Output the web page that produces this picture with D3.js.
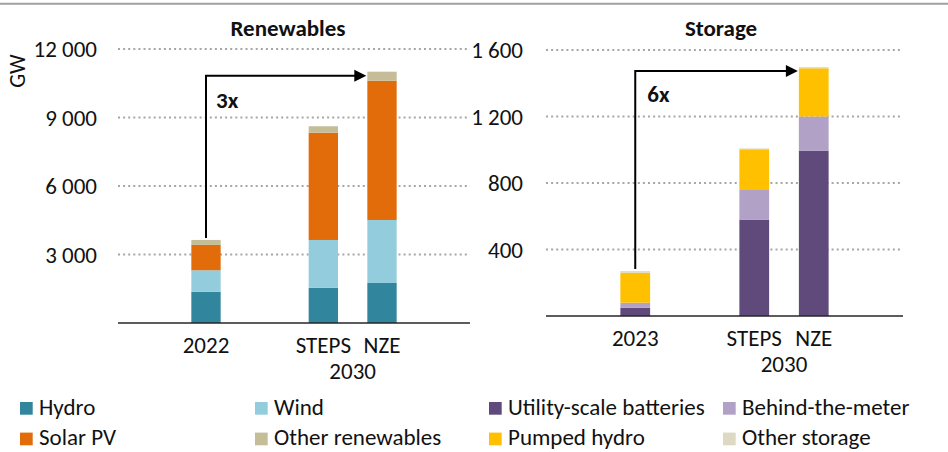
<!DOCTYPE html>
<html>
<head>
<meta charset="utf-8">
<script src="https://cdn.jsdelivr.net/npm/d3@7"></script>
<style>
  html, body { margin: 0; padding: 0; background: #fff; }
  svg { display: block; font-family: Carlito, Lato, "Open Sans", sans-serif; }
</style>
</head>
<body>
<svg id="chart" width="948" height="452"></svg>
<script>
// ---------- data ----------
const renSlots = ["", "2022", "", "STEPS", "NZE", ""];
const renCategories = ["2022", "STEPS", "NZE"];
const renHydro = [1370, 1546, 1752];
const renWind = [940, 2090, 2760];
const renSolar = [1108, 4700, 6100];
const renOther = [220, 280, 395];
const renTicks = [3000, 6000, 9000, 12000];

const storSlots = ["", "2023", "", "STEPS", "NZE", ""];
const storCategories = ["2023", "STEPS", "NZE"];
const storUtility = [50, 580, 995];
const storBTM = [30, 178, 205];
const storPumped = [180, 245, 290];
const storOther = [10, 5, 7];
const storTicks = [400, 800, 1200, 1600];

const renSeriesNames = ["Hydro", "Wind", "Solar PV", "Other renewables"];
const storSeriesNames = ["Utility-scale batteries", "Behind-the-meter", "Pumped hydro", "Other storage"];
const renColors = ["#31859c", "#93cddd", "#e36c0a", "#c4bd97"];
const storColors = ["#604a7b", "#b2a1c7", "#ffc000", "#ddd9c3"];

// ---------- setup ----------
const svg = d3.select("#chart");
const fmt = v => d3.format(",")(v).replace(/,/g, " ");
const FS = 23;

// top rule
svg.append("line").attr("x1", 0).attr("x2", 948).attr("y1", 3.7).attr("y2", 3.7)
  .attr("stroke", "#a0a0a0").attr("stroke-width", 2);

function panel(opts) {
  const { x0, x1, yBase, yTop, max, ticks, slots, cats, series, colors, title, titleX, labelRight, ratio, ratioX, ratioY } = opts;
  const g = svg.append("g");
  const x = d3.scaleBand().domain(d3.range(slots.length)).range([x0, x1]).paddingInner(0.5).paddingOuter(0.25);
  const y = d3.scaleLinear().domain([0, max]).range([yBase, yTop]);

  // gridlines
  g.append("g").selectAll("line").data(ticks).join("line")
    .attr("x1", x0).attr("x2", x1)
    .attr("y1", d => y(d)).attr("y2", d => y(d))
    .attr("stroke", "#a6a6a6").attr("stroke-width", 2).attr("stroke-dasharray", "2,3.1");

  // tick labels via axis
  const ax = g.append("g").attr("transform", `translate(${labelRight},0)`)
    .call(d3.axisLeft(y).tickValues(ticks).tickFormat(fmt).tickSize(0).tickPadding(0));
  ax.attr("font-family", null).attr("font-size", null);
  ax.select(".domain").remove();
  ax.selectAll("text").attr("font-size", FS).attr("fill", "#111").attr("dy", "0.34em");

  // stacked bars
  const rows = cats.map((c, i) => {
    const o = { cat: c, slot: slots.indexOf(c) };
    series.forEach((s, k) => o["s" + k] = s[i]);
    return o;
  });
  const keys = series.map((s, k) => "s" + k);
  const stacked = d3.stack().keys(keys)(rows);
  stacked.forEach((layer, k) => {
    g.append("g").attr("fill", colors[k]).selectAll("rect").data(layer).join("rect")
      .attr("x", d => x(d.data.slot))
      .attr("width", x.bandwidth())
      .attr("y", d => y(d[1]))
      .attr("height", d => y(d[0]) - y(d[1]));
  });

  // baseline axis
  g.append("line").attr("x1", x0).attr("x2", x1).attr("y1", yBase).attr("y2", yBase)
    .attr("stroke", "#262626").attr("stroke-width", 1.5);

  // category labels
  cats.forEach((c, i) => {
    g.append("text").attr("x", x(slots.indexOf(c)) + x.bandwidth() / 2).attr("y", yBase + 30)
      .attr("text-anchor", "middle").attr("font-size", FS).attr("fill", "#111").text(c);
  });
  const midX = (x(slots.indexOf(cats[1])) + x(slots.indexOf(cats[2])) + x.bandwidth()) / 2;
  g.append("text").attr("x", midX).attr("y", yBase + 55.5)
    .attr("text-anchor", "middle").attr("font-size", FS).attr("fill", "#111").text("2030");

  // title
  g.append("text").attr("x", titleX).attr("y", 35.5).attr("text-anchor", "middle")
    .attr("font-size", FS).attr("font-weight", "bold").attr("fill", "#111").text(title);

  // arrow annotation
  const tot = cats.map((c, i) => d3.sum(series, s => s[i]));
  const xs = x(slots.indexOf(cats[0])) + x.bandwidth() / 2;
  const ys = y(tot[0]) - 2;
  const ye = y(tot[2]) + 4;
  const xe = x(slots.indexOf(cats[2])) - 1;
  g.append("path")
    .attr("d", `M${xs},${ys} V${ye} H${xe - 11}`)
    .attr("fill", "none").attr("stroke", "#000").attr("stroke-width", 2);
  g.append("path")
    .attr("d", `M${xe},${ye} L${xe - 12},${ye - 6} L${xe - 12},${ye + 6} Z`)
    .attr("fill", "#000");
  g.append("text").attr("x", xs + ratioX).attr("y", ye + ratioY)
    .attr("font-size", FS).attr("font-weight", "bold").attr("fill", "#111").text(ratio);
}

panel({
  x0: 118, x1: 470, yBase: 323, yTop: 49, max: 12000, ticks: renTicks,
  slots: renSlots, cats: renCategories,
  series: [renHydro, renWind, renSolar, renOther], colors: renColors,
  title: "Renewables", titleX: 288, labelRight: 97,
  ratio: "3x", ratioX: 10, ratioY: 32
});

panel({
  x0: 546, x1: 903, yBase: 316, yTop: 50, max: 1600, ticks: storTicks,
  slots: storSlots, cats: storCategories,
  series: [storUtility, storBTM, storPumped, storOther], colors: storColors,
  title: "Storage", titleX: 721, labelRight: 523,
  ratio: "6x", ratioX: 12, ratioY: 31
});

// GW axis title
svg.append("text").attr("transform", "translate(25,71) rotate(-90)")
  .attr("text-anchor", "middle").attr("font-size", 22).attr("fill", "#111").text("GW");

// legend
const legendItems = [
  { name: renSeriesNames[0], color: renColors[0], col: 0, row: 0 },
  { name: renSeriesNames[1], color: renColors[1], col: 1, row: 0 },
  { name: storSeriesNames[0], color: storColors[0], col: 2, row: 0 },
  { name: storSeriesNames[1], color: storColors[1], col: 3, row: 0 },
  { name: renSeriesNames[2], color: renColors[2], col: 0, row: 1 },
  { name: renSeriesNames[3], color: renColors[3], col: 1, row: 1 },
  { name: storSeriesNames[2], color: storColors[2], col: 2, row: 1 },
  { name: storSeriesNames[3], color: storColors[3], col: 3, row: 1 }
];
const legX = [39, 274, 508, 742];
const legY = [414.7, 445.3];
const lg = svg.append("g");
legendItems.forEach(d => {
  const tx = legX[d.col], ty = legY[d.row];
  lg.append("rect").attr("x", tx - 19).attr("y", ty - 12.7).attr("width", 12.7).attr("height", 12.7).attr("fill", d.color);
  lg.append("text").attr("x", tx).attr("y", ty).attr("font-size", FS).attr("fill", "#111").text(d.name);
});
</script>
</body>
</html>
